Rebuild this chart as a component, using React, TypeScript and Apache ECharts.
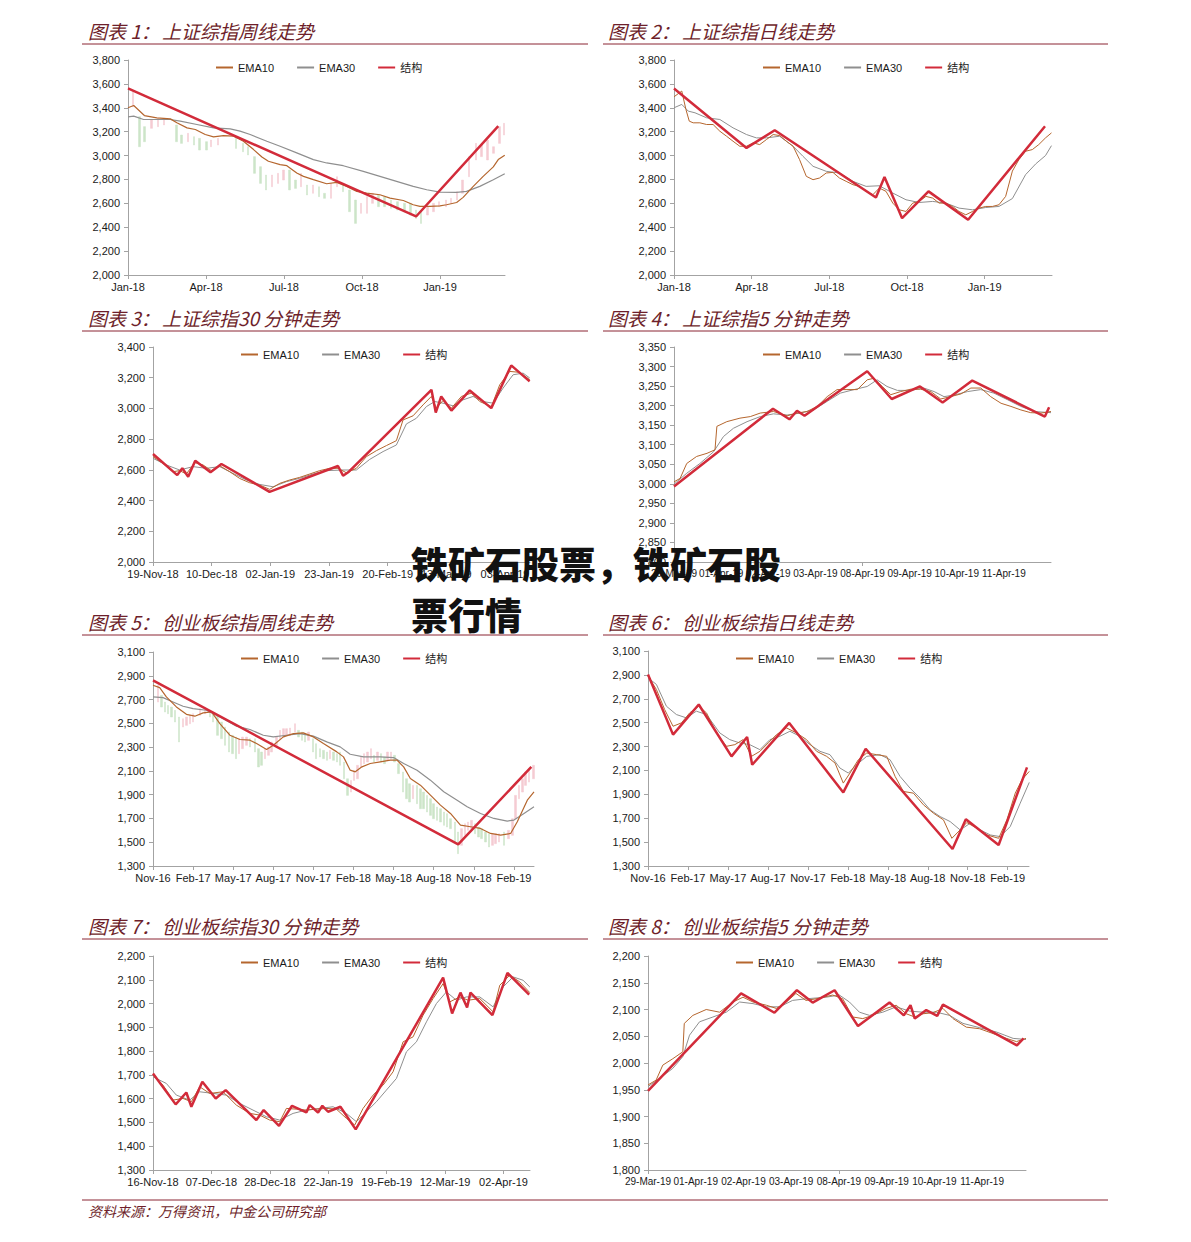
import React, { useEffect, useRef } from "react";
import * as echarts from "echarts";

const FONT = "'Liberation Sans', Arial, 'Noto Sans CJK SC', sans-serif";
const CJK = "'Noto Sans CJK SC', sans-serif";
const AXIS = "#a3a3a3";
const LABEL = "#1a1a1a";
const C_EMA10 = "#b5662e";
const C_EMA30 = "#8f8f8f";
const C_STRUCT = "#d22b3a";
const C_UP = "#f5cbd2";
const C_DOWN = "#cce5c8";
const TITLE = "#6e1f2b";

// ---------- tick labels ----------
const labelsSHMonths = ["Jan-18", "Apr-18", "Jul-18", "Oct-18", "Jan-19"];
const labelsCYBMonths = ["Nov-16", "Feb-17", "May-17", "Aug-17", "Nov-17", "Feb-18", "May-18", "Aug-18", "Nov-18", "Feb-19"];
const labelsSH30 = ["19-Nov-18", "10-Dec-18", "02-Jan-19", "23-Jan-19", "20-Feb-19", "13-Mar-19", "03-Apr-19"];
const labelsCYB30 = ["16-Nov-18", "07-Dec-18", "28-Dec-18", "22-Jan-19", "19-Feb-19", "12-Mar-19", "02-Apr-19"];
const labels5m = ["29-Mar-19", "01-Apr-19", "02-Apr-19", "03-Apr-19", "08-Apr-19", "09-Apr-19", "10-Apr-19", "11-Apr-19"];

const yTicksSH = [2000, 2200, 2400, 2600, 2800, 3000, 3200, 3400, 3600, 3800];
const yTicksSH30 = [2000, 2200, 2400, 2600, 2800, 3000, 3200, 3400];
const yTicksSH5 = [2800, 2850, 2900, 2950, 3000, 3050, 3100, 3150, 3200, 3250, 3300, 3350];
const yTicksCYB = [1300, 1500, 1700, 1900, 2100, 2300, 2500, 2700, 2900, 3100];
const yTicksCYB30 = [1300, 1400, 1500, 1600, 1700, 1800, 1900, 2000, 2100, 2200];
const yTicksCYB5 = [1800, 1850, 1900, 1950, 2000, 2050, 2100, 2150, 2200];

// ---------- panel 1: 上证综指周线 (x = months since Jan-18) ----------
const p1Ema10 = [[0,3400],[0.22,3419],[0.63,3335],[1.11,3316],[1.63,3307],[1.88,3274],[2.27,3232],[2.59,3218],[2.97,3176],[3.29,3156],[3.67,3167],[4.06,3162],[4.44,3120],[4.83,3050],[5.15,2988],[5.4,2952],[5.85,2924],[6.11,2915],[6.49,2854],[6.75,2826],[7.13,2798],[7.64,2764],[8.03,2775],[8.41,2742],[8.8,2700],[9.18,2686],[9.69,2672],[10.08,2644],[10.59,2624],[10.97,2588],[11.23,2574],[11.61,2574],[12.0,2579],[12.25,2588],[12.64,2607],[12.89,2650],[13.28,2742],[13.66,2826],[14.05,2905],[14.24,2966],[14.49,3002]];
const p1Ema30 = [[0,3324],[0.22,3330],[0.6,3302],[1.11,3302],[1.63,3302],[2.01,3288],[2.65,3260],[3.29,3232],[3.93,3223],[4.31,3204],[4.7,3176],[5.34,3120],[5.85,3078],[6.49,3022],[7.13,2966],[7.64,2938],[8.28,2915],[9.05,2868],[9.69,2826],[10.33,2784],[10.97,2742],[11.49,2714],[12.0,2694],[12.64,2691],[13.02,2700],[13.53,2742],[14.05,2798],[14.49,2848]];
const p1Struct = [[0,3562],[11.08,2490],[14.24,3246]];
// weekly bars: [month, low, high]
const p1Bars = [[0.19,3409,3535],[0.45,3074,3326],[0.64,3116,3242],[0.9,3228,3298],[1.15,3242,3312],[1.38,3256,3312],[1.86,3116,3256],[2.05,3102,3172],[2.3,3116,3186],[2.54,3088,3158],[2.75,3046,3144],[3.01,3046,3116],[3.2,3074,3130],[3.46,3088,3144],[4.16,3060,3144],[4.42,3032,3102],[4.61,3005,3074],[4.87,2851,2991],[5.1,2767,2907],[5.31,2712,2837],[5.53,2739,2837],[5.76,2767,2851],[5.98,2795,2879],[6.21,2712,2879],[6.44,2725,2795],[6.66,2739,2851],[6.88,2670,2753],[7.11,2684,2753],[7.34,2656,2739],[7.55,2642,2684],[7.81,2642,2767],[8.04,2739,2823],[8.26,2698,2767],[8.51,2530,2712],[8.75,2432,2628],[8.96,2516,2600],[9.19,2516,2656],[9.41,2600,2684],[9.64,2572,2670],[9.86,2572,2656],[10.12,2558,2628],[10.37,2544,2614],[10.63,2530,2600],[10.86,2502,2600],[11.08,2474,2544],[11.27,2432,2530],[11.52,2502,2572],[11.75,2530,2600],[11.97,2572,2614],[12.23,2572,2628],[12.42,2600,2642],[12.65,2628,2698],[12.87,2684,2795],[13.12,2823,2991],[13.38,2963,3102],[13.6,2991,3088],[13.83,2963,3130],[14.06,3019,3074],[14.28,3102,3242],[14.46,3172,3270]];

// ---------- panel 2: 上证综指日线 (x = months since Jan-18) ----------
const p2Ema10 = [[0,3492],[0.3,3540],[0.46,3386],[0.59,3288],[0.74,3274],[1.0,3274],[1.26,3260],[1.51,3260],[1.77,3204],[2.03,3162],[2.28,3120],[2.54,3078],[2.8,3078],[3.06,3106],[3.31,3092],[3.57,3134],[3.83,3176],[4.08,3167],[4.34,3120],[4.6,3078],[4.85,2966],[5.11,2826],[5.37,2798],[5.62,2812],[5.88,2854],[6.14,2859],[6.39,2812],[6.65,2784],[6.91,2756],[7.16,2742],[7.42,2700],[7.68,2672],[7.93,2728],[8.19,2700],[8.45,2602],[8.7,2546],[8.96,2532],[9.22,2602],[9.47,2616],[9.73,2658],[9.99,2644],[10.24,2602],[10.5,2602],[10.76,2574],[11.01,2532],[11.27,2504],[11.53,2532],[11.78,2560],[12.04,2574],[12.3,2574],[12.55,2588],[12.81,2658],[13.07,2870],[13.32,2966],[13.58,3036],[13.84,3050],[14.09,3092],[14.35,3148],[14.58,3190]];
const p2Ema30 = [[0,3400],[0.3,3428],[0.55,3372],[0.81,3358],[1.26,3316],[1.77,3302],[2.28,3232],[2.8,3176],[3.18,3148],[3.57,3148],[4.08,3162],[4.6,3078],[4.98,2994],[5.37,2910],[5.88,2868],[6.39,2854],[6.91,2784],[7.42,2742],[7.93,2747],[8.45,2686],[8.96,2630],[9.47,2607],[9.99,2616],[10.5,2602],[11.01,2560],[11.53,2546],[12.04,2565],[12.55,2574],[13.07,2640],[13.58,2840],[13.97,2930],[14.35,3000],[14.58,3083]];
const p2Struct = [[0,3562],[2.8,3064],[3.89,3212],[7.8,2649],[8.13,2820],[8.81,2476],[9.83,2700],[11.36,2462],[14.33,3246]];

// ---------- panel 3: 上证综指30分钟 (x = trading days since 19-Nov-18) ----------
const p3Ema10 = [[0,2686],[2.56,2642],[5.12,2588],[6.82,2595],[8.53,2573],[10.66,2647],[12.79,2632],[14.92,2595],[17.05,2627],[19.61,2588],[22.17,2544],[24.72,2516],[27.28,2501],[29.84,2473],[32.4,2512],[34.95,2534],[37.51,2551],[40.07,2573],[42.63,2595],[45.18,2610],[47.31,2610],[49.45,2581],[52.0,2610],[54.56,2686],[57.12,2725],[59.68,2758],[62.23,2790],[63.94,2925],[66.5,2952],[69.05,3023],[71.18,3078],[72.46,3002],[74.17,3052],[76.3,3002],[78.86,3078],[81.41,3100],[83.55,3045],[86.53,3012],[88.66,3154],[91.22,3241],[93.78,3235],[96.33,3187]];
const p3Ema30 = [[0,2675],[3.41,2632],[6.82,2599],[10.23,2621],[13.64,2610],[17.05,2621],[20.46,2577],[23.87,2534],[27.28,2505],[30.69,2490],[34.1,2523],[37.51,2545],[40.92,2573],[44.33,2595],[48.59,2599],[52.0,2599],[55.41,2668],[58.82,2719],[62.23,2762],[64.79,2899],[67.35,2936],[69.91,3012],[72.04,3045],[74.17,3034],[76.73,3017],[79.28,3056],[81.84,3078],[84.4,3045],[86.96,3034],[89.51,3132],[92.07,3219],[94.63,3230],[96.33,3198]];
const p3Struct = [[0,2703],[6.2,2566],[7.5,2610],[9.0,2555],[10.8,2660],[14.7,2584],[17.5,2638],[29.8,2457],[47.3,2625],[48.6,2562],[50.1,2588],[71.2,3121],[72.3,2973],[73.7,3078],[76.3,2986],[81.0,3117],[86.5,3002],[91.6,3280],[96.3,3176]];

// ---------- panel 4: 上证综指5分钟 (x = trading days since 29-Mar-19) ----------
const p4Ema10 = [[0,3005],[0.13,3014],[0.27,3052],[0.48,3070],[0.7,3078],[0.87,3087],[0.91,3147],[1.12,3159],[1.4,3168],[1.62,3172],[1.83,3181],[2.11,3185],[2.4,3174],[2.61,3181],[2.82,3185],[3.04,3198],[3.25,3223],[3.46,3241],[3.67,3241],[3.89,3241],[4.1,3266],[4.24,3270],[4.42,3249],[4.6,3228],[4.81,3236],[5.02,3242],[5.23,3242],[5.45,3236],[5.66,3217],[5.87,3223],[6.09,3230],[6.3,3245],[6.51,3245],[6.72,3223],[6.94,3206],[7.15,3198],[7.36,3189],[7.57,3182],[7.79,3181],[8.0,3185]];
const p4Ema30 = [[0,2999],[0.27,3027],[0.55,3052],[0.84,3082],[1.05,3121],[1.26,3142],[1.55,3159],[1.83,3172],[2.11,3179],[2.4,3176],[2.68,3181],[2.96,3189],[3.25,3211],[3.53,3232],[3.82,3241],[4.1,3249],[4.31,3266],[4.52,3249],[4.74,3239],[5.02,3239],[5.3,3245],[5.52,3236],[5.73,3223],[5.94,3227],[6.23,3236],[6.51,3241],[6.79,3232],[7.08,3215],[7.36,3198],[7.65,3185],[8.0,3182]];
const p4Struct = [[0,2993],[2.1,3192],[2.45,3165],[2.61,3187],[2.77,3174],[4.1,3288],[4.62,3217],[5.22,3249],[5.7,3208],[6.33,3264],[7.87,3172],[7.96,3196]];

// ---------- panel 5: 创业板综指周线 (x = months since Nov-16) ----------
const p5Ema10 = [[0,2820],[0.5,2800],[1.0,2722],[1.75,2638],[2.5,2576],[3.13,2560],[3.75,2588],[4.38,2596],[5.0,2498],[5.75,2400],[6.5,2364],[7.25,2358],[7.75,2330],[8.5,2280],[9.0,2316],[9.75,2386],[10.5,2414],[11.25,2420],[12.0,2386],[12.75,2330],[13.75,2260],[14.25,2218],[14.75,2106],[15.13,2092],[15.63,2134],[16.25,2162],[17.0,2176],[17.75,2190],[18.25,2190],[18.75,2134],[19.25,2036],[20.0,1980],[20.75,1896],[21.5,1812],[22.25,1742],[23.0,1644],[23.75,1630],[24.5,1616],[25.25,1574],[26.0,1560],[26.75,1574],[27.25,1672],[28.0,1854],[28.5,1924]];
const p5Ema30 = [[0,2722],[0.75,2716],[1.5,2680],[2.25,2644],[3.0,2624],[4.0,2610],[5.0,2554],[6.25,2476],[7.25,2448],[8.25,2400],[9.0,2386],[10.0,2400],[11.0,2414],[12.0,2392],[13.0,2344],[14.0,2302],[14.75,2240],[15.75,2218],[17.0,2218],[18.0,2212],[18.75,2162],[19.75,2106],[20.75,2022],[21.75,1924],[22.75,1854],[23.5,1798],[24.5,1742],[25.5,1700],[26.5,1678],[27.0,1686],[27.75,1742],[28.5,1798]];
const p5Struct = [[0,2862],[22.83,1482],[28.3,2134]];
// weekly bars: [month, low, high]
const p5Bars = [[0.38,2679,2820],[0.63,2637,2735],[0.88,2595,2679],[1.13,2581,2651],[1.38,2553,2637],[1.63,2511,2609],[1.95,2343,2553],[2.25,2469,2539],[2.5,2483,2553],[2.75,2497,2567],[3.0,2511,2581],[3.5,2567,2623],[3.88,2581,2637],[4.25,2553,2609],[4.5,2511,2595],[4.83,2399,2567],[5.13,2371,2511],[5.38,2315,2469],[5.7,2259,2427],[5.95,2245,2399],[6.2,2203,2385],[6.45,2245,2371],[6.7,2287,2385],[7.0,2315,2385],[7.25,2301,2371],[7.63,2259,2371],[7.88,2133,2287],[8.13,2147,2259],[8.38,2203,2287],[8.63,2231,2301],[8.88,2259,2343],[9.25,2315,2385],[9.5,2371,2441],[9.75,2385,2455],[10.0,2399,2455],[10.25,2399,2461],[10.63,2427,2497],[10.88,2385,2441],[11.13,2357,2427],[11.38,2343,2413],[11.63,2357,2427],[11.95,2259,2371],[12.2,2203,2329],[12.5,2217,2287],[12.75,2203,2273],[13.0,2189,2259],[13.25,2203,2273],[13.5,2189,2259],[13.75,2175,2245],[14.0,2147,2259],[14.3,2034,2175],[14.55,1894,2034],[14.8,1922,2020],[15.05,2020,2105],[15.3,2034,2147],[15.55,2133,2217],[15.8,2161,2245],[16.05,2175,2259],[16.3,2203,2287],[16.55,2175,2231],[16.8,2189,2259],[17.05,2175,2245],[17.3,2161,2217],[17.55,2189,2259],[17.8,2203,2259],[18.05,2175,2231],[18.38,2077,2161],[18.7,1922,2091],[18.95,1866,2034],[19.2,1838,1992],[19.45,1866,1978],[19.75,1824,1978],[20.0,1782,1950],[20.25,1782,1922],[20.5,1754,1894],[20.75,1726,1866],[21.0,1698,1824],[21.25,1684,1796],[21.5,1670,1782],[21.75,1642,1754],[22.0,1628,1740],[22.25,1614,1698],[22.58,1502,1670],[22.83,1404,1586],[23.08,1474,1614],[23.33,1558,1656],[23.58,1600,1670],[23.83,1614,1684],[24.08,1572,1656],[24.33,1544,1628],[24.58,1530,1614],[24.88,1502,1586],[25.13,1460,1572],[25.38,1474,1572],[25.63,1488,1572],[25.88,1502,1572],[26.25,1474,1586],[26.58,1530,1600],[26.88,1558,1698],[27.13,1698,1894],[27.38,1866,1978],[27.63,1922,2034],[27.88,1978,2091],[28.13,2006,2119],[28.45,2034,2147]];

// ---------- panel 6: 创业板综指日线 (x = months since Nov-16) ----------
const p6Ema10 = [[0,2890],[0.63,2778],[1.25,2610],[1.88,2470],[2.51,2498],[3.13,2582],[3.81,2638],[4.39,2582],[5.14,2414],[5.89,2302],[6.52,2316],[7.14,2358],[7.77,2218],[8.4,2260],[9.02,2330],[9.65,2400],[10.4,2456],[11.15,2414],[11.9,2358],[12.66,2260],[13.41,2218],[14.04,2162],[14.66,1994],[15.16,2078],[15.79,2190],[16.42,2246],[17.17,2232],[17.92,2218],[18.55,2050],[19.17,1924],[19.92,1910],[20.68,1812],[21.43,1742],[22.18,1686],[22.81,1532],[23.43,1602],[23.93,1664],[24.69,1616],[25.44,1560],[26.32,1532],[26.94,1686],[27.57,1910],[28.07,2022],[28.62,2092]];
const p6Ema30 = [[0,2876],[0.63,2820],[1.38,2638],[2.13,2568],[2.88,2540],[3.63,2596],[4.39,2568],[5.39,2414],[6.14,2358],[6.89,2330],[7.64,2316],[8.4,2274],[9.15,2358],[9.9,2386],[10.65,2428],[11.4,2386],[12.16,2316],[12.91,2260],[13.66,2232],[14.41,2120],[15.04,2078],[15.66,2148],[16.42,2218],[17.42,2232],[18.17,2190],[18.92,2050],[19.67,1952],[20.43,1868],[21.18,1770],[21.93,1714],[22.68,1672],[23.43,1602],[24.19,1658],[24.94,1602],[25.69,1560],[26.44,1546],[27.19,1630],[27.94,1826],[28.62,2000]];
const p6Struct = [[0,2904],[1.88,2400],[3.81,2652],[6.27,2218],[7.44,2380],[7.82,2148],[10.6,2498],[14.66,1916],[16.34,2282],[22.86,1442],[23.86,1692],[26.32,1476],[28.45,2126]];

// ---------- panel 7: 创业板综指30分钟 (x = trading days since 16-Nov-18) ----------
const p7Ema10 = [[0,1699],[2.57,1657],[5.14,1594],[7.71,1601],[9.85,1587],[11.99,1650],[14.55,1622],[17.98,1629],[21.4,1573],[24.83,1538],[27.4,1531],[29.97,1510],[32.53,1503],[34.25,1559],[36.82,1556],[39.38,1552],[41.95,1556],[44.52,1559],[47.09,1556],[49.66,1517],[51.8,1489],[53.94,1559],[56.51,1615],[59.08,1657],[61.64,1713],[64.21,1839],[66.78,1860],[69.35,1951],[71.92,2021],[74.49,2084],[76.2,2007],[78.77,2028],[80.91,2014],[83.9,2021],[87.33,1965],[89.04,2077],[91.61,2119],[94.18,2091],[96.75,2046]];
const p7Ema30 = [[0,1692],[3.42,1664],[5.99,1615],[9.42,1594],[11.99,1629],[15.41,1622],[18.84,1615],[22.26,1580],[25.68,1552],[29.11,1524],[32.53,1510],[35.96,1538],[39.38,1552],[42.81,1559],[46.23,1566],[49.66,1538],[52.23,1503],[54.79,1545],[57.36,1587],[59.93,1636],[62.5,1685],[65.07,1797],[67.64,1839],[70.21,1923],[72.77,2000],[75.34,2049],[77.91,2014],[80.48,2028],[83.9,2028],[87.33,1986],[89.9,2070],[92.47,2112],[95.03,2098],[96.75,2070]];
const p7Struct = [[0,1706],[5.82,1576],[8.56,1626],[9.85,1566],[12.67,1671],[16.1,1601],[18.66,1636],[26.54,1510],[28.42,1552],[32.36,1486],[35.7,1570],[39.38,1542],[40.24,1573],[42.38,1542],[43.49,1570],[44.95,1545],[48.12,1566],[52.05,1471],[74.49,2109],[76.8,1958],[78.94,2046],[80.65,1983],[81.51,2046],[87.16,1951],[91.01,2129],[96.58,2038]];

// ---------- panel 8: 创业板综指5分钟 (x = trading days since 29-Mar-19) ----------
const p8Ema10 = [[0,1959],[0.17,1968],[0.31,1996],[0.52,2008],[0.73,2021],[0.76,2074],[0.94,2089],[1.22,2100],[1.5,2095],[1.78,2114],[1.99,2123],[2.2,2114],[2.48,2108],[2.69,2102],[2.9,2114],[3.1,2130],[3.31,2117],[3.52,2120],[3.87,2127],[4.08,2120],[4.29,2086],[4.5,2083],[4.71,2089],[4.99,2102],[5.2,2108],[5.41,2092],[5.59,2086],[5.76,2092],[5.97,2094],[6.18,2102],[6.39,2083],[6.67,2067],[6.95,2064],[7.23,2055],[7.51,2046],[7.72,2040],[7.92,2046]];
const p8Ema30 = [[0,1956],[0.24,1971],[0.52,1990],[0.73,2012],[0.87,2052],[1.08,2077],[1.36,2086],[1.64,2095],[1.92,2114],[2.2,2111],[2.48,2105],[2.76,2105],[3.03,2117],[3.31,2120],[3.73,2123],[4.01,2127],[4.22,2114],[4.43,2095],[4.64,2089],[4.92,2095],[5.2,2105],[5.48,2097],[5.76,2095],[6.04,2095],[6.32,2089],[6.6,2074],[6.95,2066],[7.3,2058],[7.65,2046],[7.92,2044]];
const p8Struct = [[0,1948],[1.95,2130],[2.65,2094],[3.12,2136],[3.45,2113],[3.91,2136],[4.4,2069],[5.06,2113],[5.36,2089],[5.5,2108],[5.59,2083],[5.83,2099],[6.06,2088],[6.18,2109],[7.73,2033],[7.87,2046]];

const TITLES = [
  ["图表 1：", "上证综指周线走势"],
  ["图表 2：", "上证综指日线走势"],
  ["图表 3：", "上证综指30 分钟走势"],
  ["图表 4：", "上证综指5 分钟走势"],
  ["图表 5：", "创业板综指周线走势"],
  ["图表 6：", "创业板综指日线走势"],
  ["图表 7：", "创业板综指30 分钟走势"],
  ["图表 8：", "创业板综指5 分钟走势"],
];

const PANELS = [
  { left: 128, top: 60, width: 377, height: 215, xMax: 14.5, xAt: [0, 3, 6, 9, 12], xTicks: [0, 3, 6, 9, 12], xLabels: labelsSHMonths, xFont: 11, yMin: 2000, yMax: 3800, yTicks: yTicksSH, ema10: p1Ema10, ema30: p1Ema30, struct: p1Struct, bars: p1Bars, lw: 1.2, legendLeft: 215, legendTop: 62, titleY: 30, titleX: 88 },
  { left: 674, top: 60, width: 378, height: 215, xMax: 14.6, xAt: [0, 3, 6, 9, 12], xTicks: [0, 3, 6, 9, 12], xLabels: labelsSHMonths, xFont: 11, yMin: 2000, yMax: 3800, yTicks: yTicksSH, ema10: p2Ema10, ema30: p2Ema30, struct: p2Struct, bars: null, lw: 1, legendLeft: 762, legendTop: 62, titleY: 30, titleX: 608 },
  { left: 153, top: 347, width: 377, height: 215, xMax: 96.4, xAt: [0, 15, 30, 45, 60, 75, 90], xTicks: [0, 15, 30, 45, 60, 75, 90], xLabels: labelsSH30, xFont: 11, yMin: 2000, yMax: 3400, yTicks: yTicksSH30, ema10: p3Ema10, ema30: p3Ema30, struct: p3Struct, bars: null, lw: 1, legendLeft: 240, legendTop: 349, titleY: 317, titleX: 88 },
  { left: 674, top: 347, width: 377, height: 215, xMax: 8.0, xAt: [0, 1, 2, 3, 4, 5, 6, 7], xTicks: [0, 4], xLabels: labels5m, xFont: 10, yMin: 2800, yMax: 3350, yTicks: yTicksSH5, ema10: p4Ema10, ema30: p4Ema30, struct: p4Struct, bars: null, lw: 1, legendLeft: 762, legendTop: 349, titleY: 317, titleX: 608 },
  { left: 153, top: 652, width: 381, height: 214, xMax: 28.5, xAt: [0, 3, 6, 9, 12, 15, 18, 21, 24, 27], xTicks: [0, 3, 6, 9, 12, 15, 18, 21, 24, 27], xLabels: labelsCYBMonths, xFont: 11, yMin: 1300, yMax: 3100, yTicks: yTicksCYB, ema10: p5Ema10, ema30: p5Ema30, struct: p5Struct, bars: p5Bars, lw: 1.2, legendLeft: 240, legendTop: 653, titleY: 621, titleX: 88 },
  { left: 648, top: 651, width: 381, height: 215, xMax: 28.6, xAt: [0, 3, 6, 9, 12, 15, 18, 21, 24, 27], xTicks: [0, 3, 6, 9, 12, 15, 18, 21, 24, 27], xLabels: labelsCYBMonths, xFont: 11, yMin: 1300, yMax: 3100, yTicks: yTicksCYB, ema10: p6Ema10, ema30: p6Ema30, struct: p6Struct, bars: null, lw: 1, legendLeft: 735, legendTop: 653, titleY: 621, titleX: 608 },
  { left: 153, top: 956, width: 377, height: 214, xMax: 96.8, xAt: [0, 15, 30, 45, 60, 75, 90], xTicks: [0, 15, 30, 45, 60, 75, 90], xLabels: labelsCYB30, xFont: 11, yMin: 1300, yMax: 2200, yTicks: yTicksCYB30, ema10: p7Ema10, ema30: p7Ema30, struct: p7Struct, bars: null, lw: 1, legendLeft: 240, legendTop: 957, titleY: 925, titleX: 88 },
  { left: 648, top: 956, width: 378, height: 214, xMax: 7.92, xAt: [0, 1, 2, 3, 4, 5, 6, 7], xTicks: [0, 4], xLabels: labels5m, xFont: 10, yMin: 1800, yMax: 2200, yTicks: yTicksCYB5, ema10: p8Ema10, ema30: p8Ema30, struct: p8Struct, bars: null, lw: 1, legendLeft: 735, legendTop: 957, titleY: 925, titleX: 608 },
];

const fmtThousands = (v: number) => Math.round(v).toLocaleString("en-US");

// bars [x, low, high] -> candlestick rows [x, open, close, low, high]; direction from mid-price change
function toCandles(bars: number[][]) {
  return bars.map((b, k) => {
    const mid = (b[1] + b[2]) / 2;
    const prev = k > 0 ? (bars[k - 1][1] + bars[k - 1][2]) / 2 : mid;
    const up = mid >= prev;
    return up ? [b[0], b[1], b[2], b[1], b[2]] : [b[0], b[2], b[1], b[1], b[2]];
  });
}

function buildOption() {
  const grid: any[] = [];
  const xAxis: any[] = [];
  const yAxis: any[] = [];
  const series: any[] = [];
  const legend: any[] = [];
  const graphic: any[] = [];

  PANELS.forEach((p, i) => {
    grid.push({ left: p.left, top: p.top, width: p.width, height: p.height });
    xAxis.push({
      type: "value",
      gridIndex: i,
      min: 0,
      max: p.xMax,
      axisLine: { onZero: false, lineStyle: { color: AXIS, width: 1 } },
      axisTick: { show: true, length: 4, lineStyle: { color: AXIS }, customValues: p.xTicks },
      axisLabel: {
        customValues: p.xAt,
        hideOverlap: false,
        showMinLabel: true,
        showMaxLabel: true,
        margin: 6,
        fontSize: p.xFont,
        color: LABEL,
        fontFamily: FONT,
        formatter: (v: number) => {
          const k = p.xAt.findIndex((a) => Math.abs(a - v) < 1e-6);
          return k >= 0 ? p.xLabels[k] : "";
        },
      },
      splitLine: { show: false },
    });
    yAxis.push({
      type: "value",
      gridIndex: i,
      min: p.yMin,
      max: p.yMax,
      axisLine: { show: true, lineStyle: { color: AXIS, width: 1 } },
      axisTick: { show: true, length: 4, lineStyle: { color: AXIS }, customValues: p.yTicks },
      axisLabel: {
        customValues: p.yTicks,
        showMinLabel: true,
        showMaxLabel: true,
        margin: 8,
        fontSize: 11,
        color: LABEL,
        fontFamily: FONT,
        formatter: (v: number) => fmtThousands(v),
      },
      splitLine: { show: false },
    });
    if (p.bars) {
      series.push({
        name: "K线", type: "candlestick", xAxisIndex: i, yAxisIndex: i,
        data: toCandles(p.bars), encode: { x: 0, y: [1, 2, 3, 4] },
        barWidth: 2,
        itemStyle: { color: C_UP, color0: C_DOWN, borderColor: C_UP, borderColor0: C_DOWN, borderWidth: 0.5 },
        z: 1,
      });
    }
    series.push({
      name: "EMA30", type: "line", xAxisIndex: i, yAxisIndex: i, data: p.ema30,
      symbol: "none", showSymbol: false, lineStyle: { color: C_EMA30, width: p.lw }, itemStyle: { color: C_EMA30 }, z: 2,
    });
    series.push({
      name: "EMA10", type: "line", xAxisIndex: i, yAxisIndex: i, data: p.ema10,
      symbol: "none", showSymbol: false, lineStyle: { color: C_EMA10, width: p.lw }, itemStyle: { color: C_EMA10 }, z: 3,
    });
    series.push({
      name: "结构", type: "line", xAxisIndex: i, yAxisIndex: i, data: p.struct,
      symbol: "none", showSymbol: false, lineStyle: { color: C_STRUCT, width: 2.5 }, itemStyle: { color: C_STRUCT }, z: 4,
    });
    legend.push({
      data: ["EMA10", "EMA30", "结构"],
      left: p.legendLeft,
      top: p.legendTop,
      orient: "horizontal",
      itemWidth: 17,
      itemHeight: 10,
      itemGap: 22,
      selectedMode: false,
      padding: 0,
      itemStyle: { opacity: 0 },
      textStyle: { fontSize: 11, color: LABEL, fontFamily: FONT },
    });
    const t = TITLES[i];
    graphic.push({
      type: "text", x: p.titleX, y: p.titleY, z: 50,
      style: { text: t[0], fill: TITLE, fontSize: 19, fontStyle: "italic", fontFamily: CJK, verticalAlign: "middle" },
    });
    graphic.push({
      type: "text", x: p.titleX + 74, y: p.titleY, z: 50,
      style: { text: t[1], fill: TITLE, fontSize: 19, fontStyle: "italic", fontFamily: CJK, verticalAlign: "middle" },
    });
    const ruleY = p.titleY + 14;
    const x1 = p.titleX === 88 ? 82 : 603;
    const x2 = p.titleX === 88 ? 588 : 1108;
    graphic.push({ type: "line", z: 50, shape: { x1, y1: ruleY, x2, y2: ruleY }, style: { stroke: "#8a2432", lineWidth: 1 } });
  });

  graphic.push({ type: "line", z: 50, shape: { x1: 82, y1: 1200, x2: 1108, y2: 1200 }, style: { stroke: "#8a2432", lineWidth: 1 } });
  graphic.push({
    type: "text", x: 88, y: 1211, z: 50,
    style: { text: "资料来源：万得资讯，中金公司研究部", fill: TITLE, fontSize: 14, fontStyle: "italic", fontFamily: CJK, verticalAlign: "middle" },
  });
  graphic.push({
    type: "text", x: 411, y: 563, z: 100,
    style: { text: "铁矿石股票，铁矿石股", fill: "#111111", fontSize: 37, fontWeight: 900, fontFamily: CJK, verticalAlign: "middle" },
  });
  graphic.push({
    type: "text", x: 411, y: 614, z: 100,
    style: { text: "票行情", fill: "#111111", fontSize: 37, fontWeight: 900, fontFamily: CJK, verticalAlign: "middle" },
  });

  return { animation: false, backgroundColor: "#ffffff", grid, xAxis, yAxis, series, legend, graphic };
}

export default function App() {
  const ref = useRef<HTMLDivElement>(null);
  useEffect(() => {
    if (!ref.current) return;
    const chart = echarts.init(ref.current, undefined, { renderer: "svg" });
    chart.setOption(buildOption() as any);
    return () => chart.dispose();
  }, []);
  return (
    <div
      ref={ref}
      style={{ position: "absolute", left: 0, top: 0, width: 1191, height: 1242, background: "#fff" }}
    />
  );
}
